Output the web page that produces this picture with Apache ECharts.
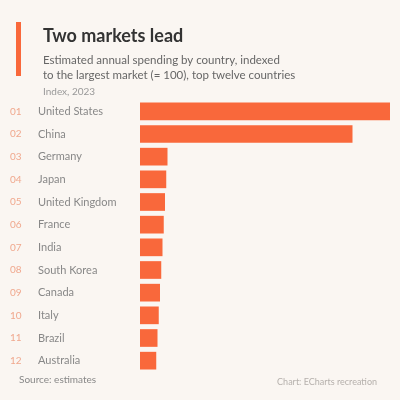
<!DOCTYPE html>
<html>
<head>
<meta charset="utf-8">
<script src="https://cdn.jsdelivr.net/npm/echarts@6/dist/echarts.min.js"></script>
<style>
html,body{margin:0;padding:0;background:#faf6f2;}
#c{width:400px;height:400px;}
</style>
</head>
<body>
<div id="c"></div>
<script>
var categories = ["United States","China","Germany","Japan","United Kingdom","France","India","South Korea","Canada","Italy","Brazil","Australia"];
var values = [100, 85, 11, 10.5, 10, 9.5, 9, 8.5, 8, 7.5, 7, 6.5];
var ranks = ["01","02","03","04","05","06","07","08","09","10","11","12"];
var titleText = "Two markets lead";
var subtitleText = "Estimated annual spending by country, indexed\nto the largest market (= 100), top twelve countries";
var unitText = "Index, 2023";
var sourceText = "Source: estimates";
var noteText = "Chart: ECharts recreation";

var chart = echarts.init(document.getElementById('c'));
chart.setOption({
  backgroundColor: '#faf6f2',
  animation: false,
  title: [
    {text: titleText, left: 38, top: 22, textStyle:{fontFamily:'Lato', fontSize:18, fontWeight:'bold', color:'#333'}},
    {text: subtitleText, left: 38, top: 48, textStyle:{fontFamily:'Lato', fontSize:11.5, fontWeight:'normal', color:'#666', lineHeight:15}},
    {text: unitText, left: 38, top: 82, textStyle:{fontFamily:'Lato', fontSize:10, fontWeight:'normal', color:'#999'}},
    {text: sourceText, left: 14, bottom: 10, textStyle:{fontFamily:'Lato', fontSize:10, fontWeight:'normal', color:'#888'}},
    {text: noteText, right: 18, bottom: 8, textStyle:{fontFamily:'Lato', fontSize:9, fontWeight:'normal', color:'#b5b0ac'}}
  ],
  graphic: [
    {type:'rect', left: 16, top: 22, shape:{width:5, height:54}, style:{fill:'#f9683b'}}
  ],
  grid: {left: 140, right: 10, top: 100, bottom: 28},
  xAxis: {type:'value', min:0, max:100, show:false},
  yAxis: {
    type:'category', data: categories, inverse:true,
    axisLine:{show:false}, axisTick:{show:false},
    axisLabel:{
      margin: 6,
      formatter: function(v, i){ return '{r|' + ranks[i] + '}{n|' + v + '}'; },
      rich:{
        r:{fontFamily:'Lato', fontSize:10, color:'#f0a88e', width:28, align:'left'},
        n:{fontFamily:'Lato', fontSize:11, color:'#888', width:96, align:'left'}
      }
    }
  },
  series: [{
    type:'bar', data: values, barCategoryGap:'22%',
    itemStyle:{color:'#f9683b'}
  }]
});
</script>
</body>
</html>
